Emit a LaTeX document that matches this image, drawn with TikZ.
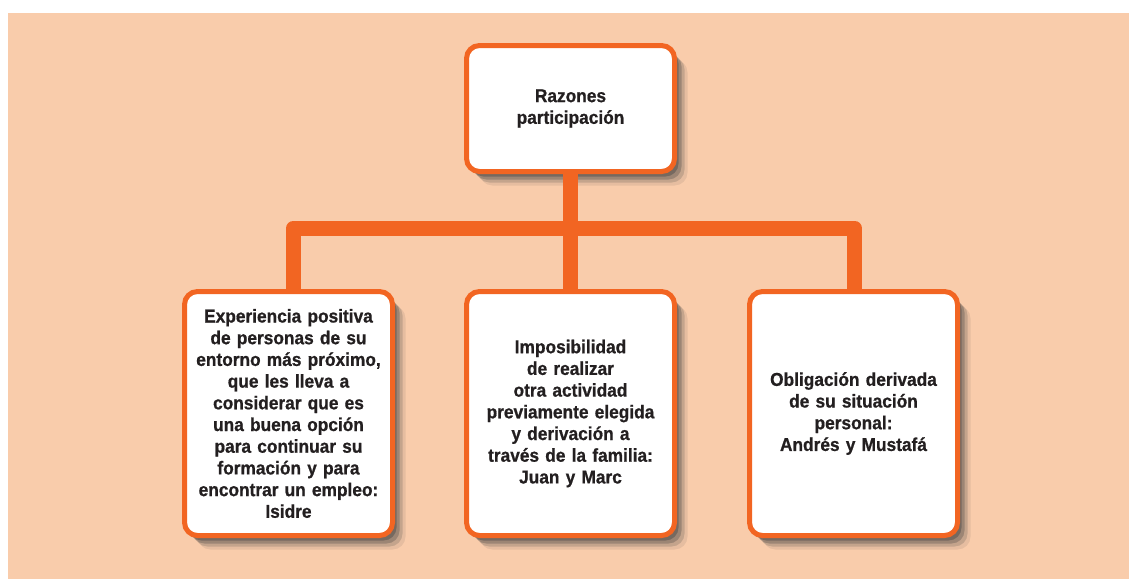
\documentclass[tikz,border=0pt]{standalone}
\usepackage{fontspec}
\setmainfont{Liberation Sans}[FakeStretch=0.93, BoldFeatures={FakeBold=0.8}]
\usepackage{xcolor}
\definecolor{peach}{RGB}{249,204,171}
\definecolor{myorange}{RGB}{242,101,34}
\definecolor{mytext}{RGB}{35,31,32}
\usepackage{tikz}
\usetikzlibrary{shadows}
\newcommand{\widthbox}{208pt}
\newcommand{\widthtext}{196pt}
\tikzset{
    common/.style={draw=myorange, line width=5pt, fill=white, rounded corners=13pt, inner sep=0pt,
        align=center, text=mytext, font=\bfseries\fontsize{18.6}{21.7}\selectfont,
        minimum width=\widthbox, text width=\widthtext,
        drop shadow={shadow xshift=4pt, shadow yshift=-5pt, opacity=0.40, fill=black!75},
        drop shadow={shadow xshift=7pt, shadow yshift=-8pt, opacity=0.30, fill=black!75},
        drop shadow={shadow xshift=10pt, shadow yshift=-11pt, opacity=0.20, fill=black!75},
        drop shadow={shadow xshift=13pt, shadow yshift=-14pt, opacity=0.10, fill=black!75}},
    topic/.style={common, minimum height=126pt},
    reason/.style={common, minimum height=244pt},
    link/.style={draw=myorange, line width=15pt, line join=round}
}

\begin{document}
\begin{tikzpicture}[x=1pt, y=-1pt]
    \useasboundingbox (0,0) rectangle (1129,579);
    \fill[peach] (8,13) rectangle (1129,579);

    \node[topic] (razones) at (570.5,108.5) {Razones\\participación};
    \node[reason] (experiencia) at (288.5,413.5) {Experiencia positiva\\de personas de su\\entorno más próximo,\\que les lleva a\\considerar que es\\una buena opción\\para continuar su\\formación y para\\encontrar un empleo:\\Isidre};
    \node[reason] (imposibilidad) at (570.5,413.5) {Imposibilidad\\de realizar\\otra actividad\\previamente elegida\\y derivación a\\través de la familia:\\Juan y Marc};
    \node[reason] (obligacion) at (853.5,413.5) {Obligación derivada\\de su situación\\personal:\\Andrés y Mustafá};

    \coordinate (fork) at (570.5,228);

    \draw[link] (razones.south) -- (fork) -| ([xshift=5pt]experiencia.north);
    \draw[link] (fork) -- (imposibilidad.north);
    \draw[link] (fork) -| ([xshift=1pt]obligacion.north);
\end{tikzpicture}
\end{document}
